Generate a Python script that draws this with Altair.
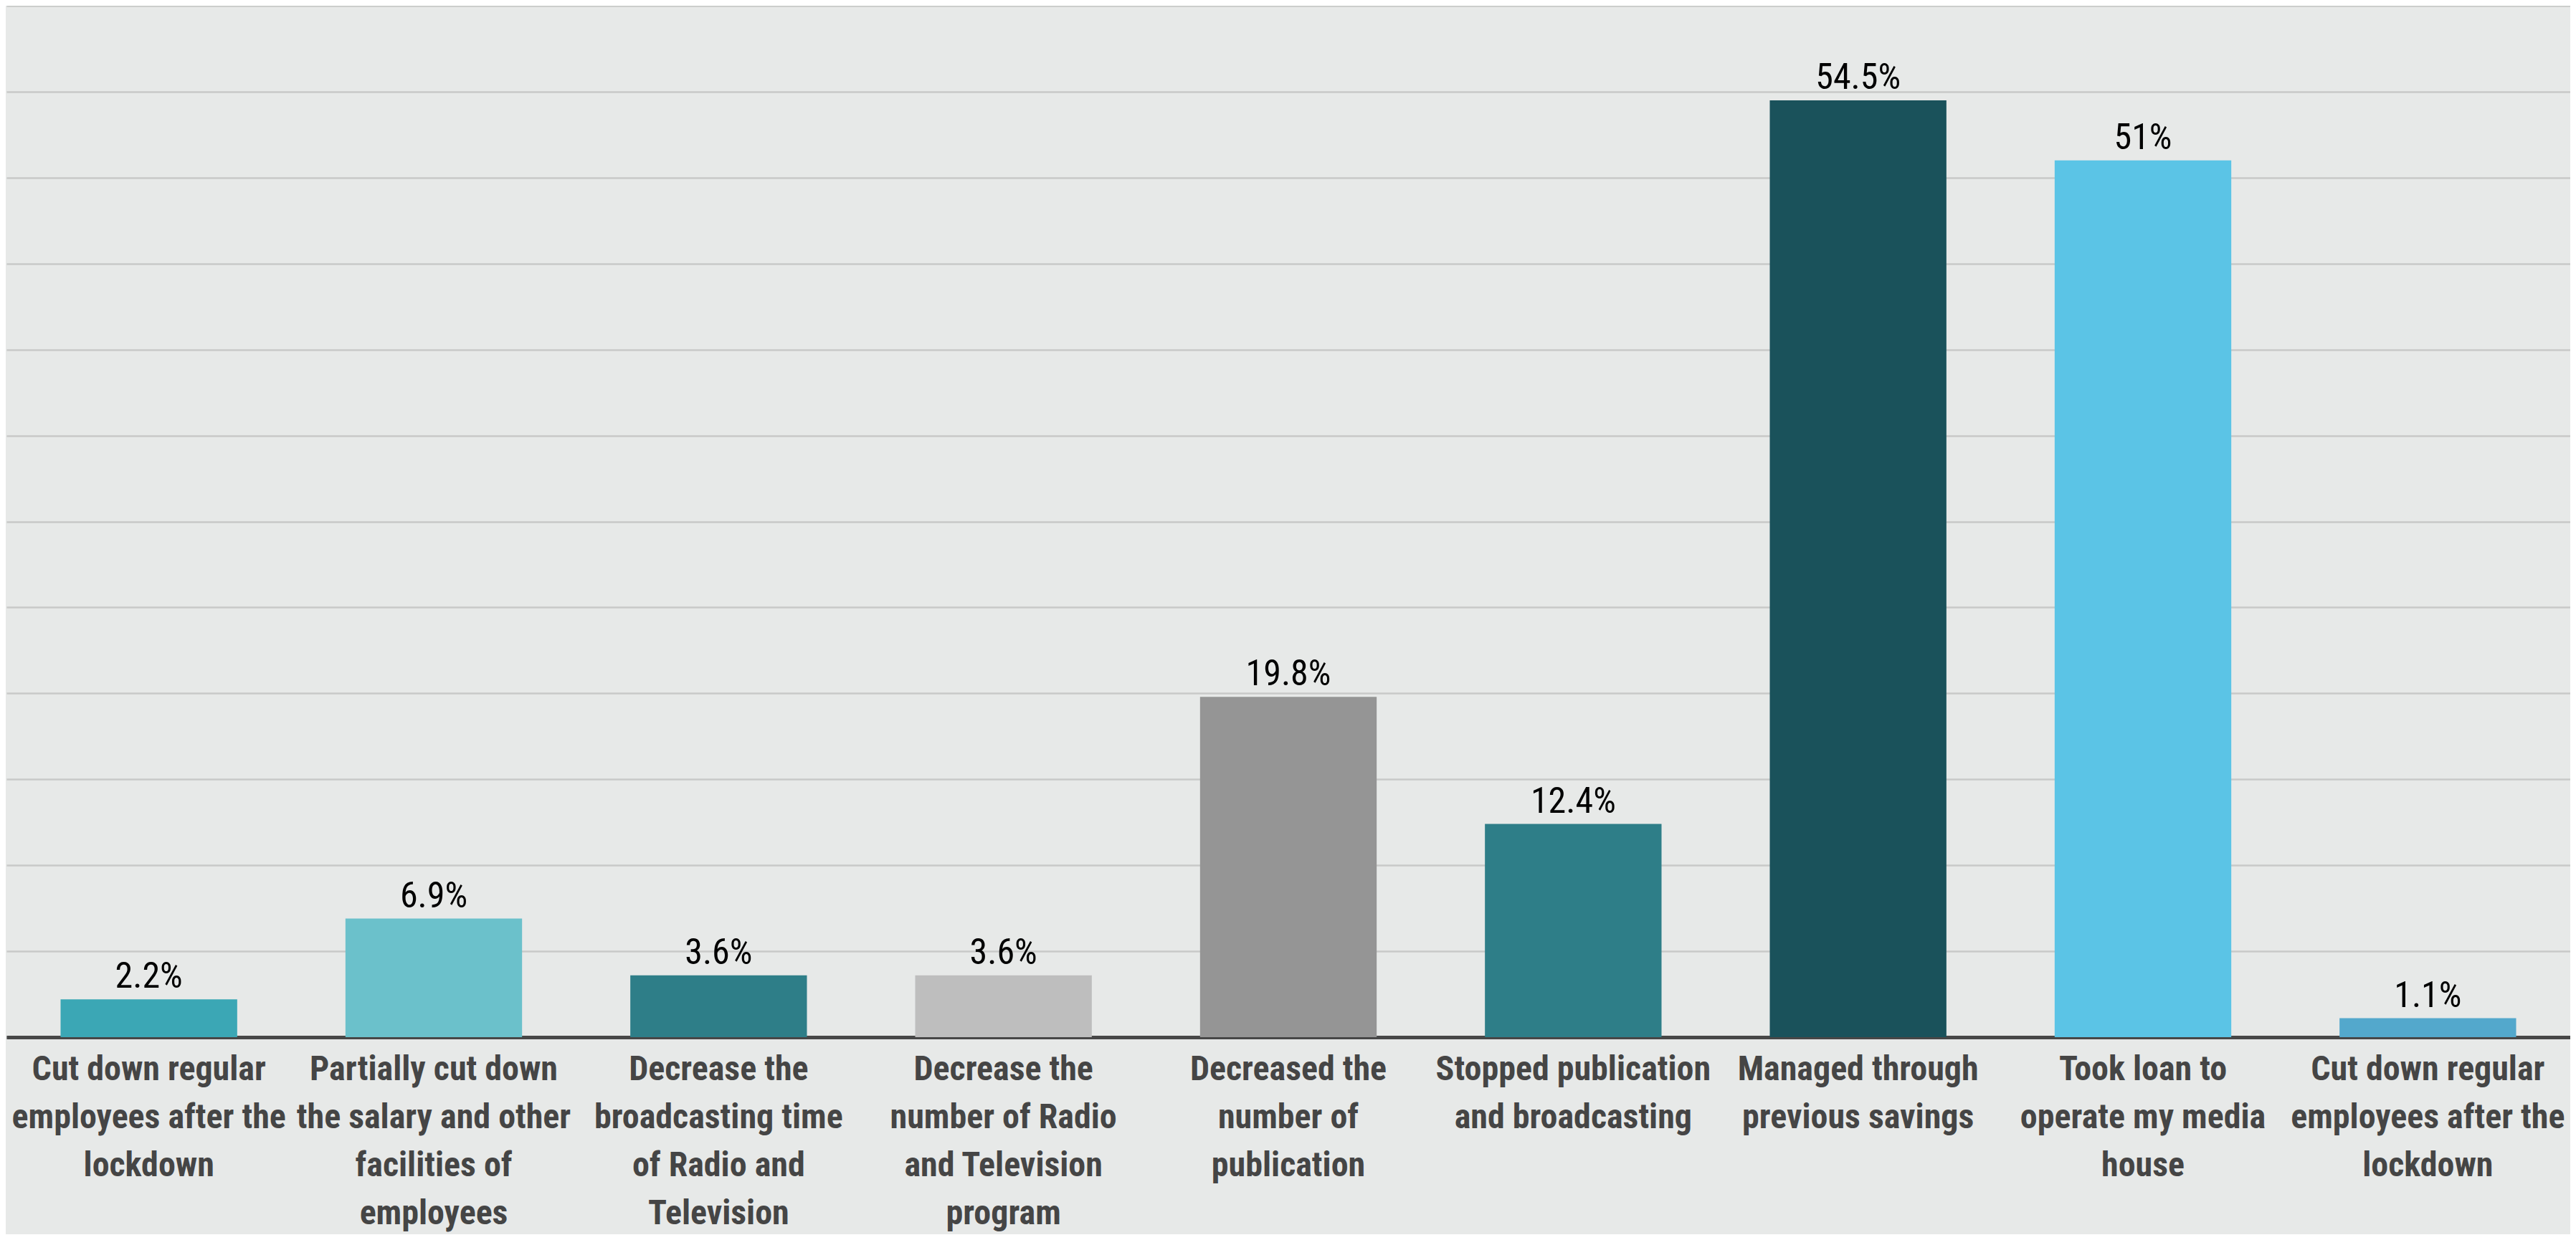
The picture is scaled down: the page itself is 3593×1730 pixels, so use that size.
import json
import altair as alt
import pandas as pd

categories = [
    "Cut down regular|employees after the|lockdown",
    "Partially cut down|the salary and other|facilities of|employees",
    "Decrease the|broadcasting time|of Radio and|Television",
    "Decrease the|number of Radio|and Television|program",
    "Decreased the|number of|publication",
    "Stopped publication|and broadcasting",
    "Managed through|previous savings",
    "Took loan to|operate my media|house",
    "Cut down regular|employees after the|lockdown",
]
values = [2.2, 6.9, 3.6, 3.6, 19.8, 12.4, 54.5, 51, 1.1]
value_labels = ["2.2%", "6.9%", "3.6%", "3.6%", "19.8%", "12.4%", "54.5%", "51%", "1.1%"]
colors = ["#3BA7B5", "#6BC1CB", "#2E7E88", "#BEBEBE", "#959595", "#2E7E88",
          "#1A525B", "#5BC4E6", "#53A8CC"]
grid_values = [0, 5, 10, 15, 20, 25, 30, 35, 40, 45, 50, 55, 60]

df = pd.DataFrame({
    "idx": list(range(len(categories))),
    "value": values,
    "label": value_labels,
    "color": colors,
})

label_expr = "split(" + json.dumps(categories) + "[datum.value], '|')"

x = alt.X(
    "idx:O",
    scale=alt.Scale(paddingInner=0.38, paddingOuter=0.19),
    axis=alt.Axis(
        title=None,
        labelExpr=label_expr,
        labelAngle=0,
        labelFont="Roboto Condensed",
        labelFontWeight="bold",
        labelFontSize=48,
        labelLineHeight=67,
        labelColor="#454545",
        labelBaseline="top",
        labelPadding=21,
        labelLimit=0,
        labelOverlap=False,
        ticks=False,
        domain=True,
        domainColor="#474747",
        domainWidth=5,
        grid=False,
    ),
)
y = alt.Y(
    "value:Q",
    scale=alt.Scale(domain=[0, 60], nice=False),
    axis=alt.Axis(
        title=None,
        labels=False,
        ticks=False,
        domain=False,
        grid=True,
        values=grid_values,
        gridColor="#C8C9C8",
        gridWidth=2.5,
    ),
)

bars = alt.Chart(df).mark_bar().encode(
    x=x,
    y=y,
    color=alt.Color("color:N", scale=None),
)

text = alt.Chart(df).mark_text(
    baseline="alphabetic",
    dy=-16,
    font="Roboto Condensed",
    fontSize=50,
    color="#000000",
).encode(
    x=alt.X("idx:O"),
    y=alt.Y("value:Q"),
    text=alt.Text("label:N"),
)

chart = alt.layer(bars, text).properties(
    width=3576,
    height=1439,
    background="#E7E9E8",
    autosize=alt.AutoSizeParams(type="none"),
    padding={"left": 1, "top": 0, "right": 0, "bottom": 275},
).configure_view(stroke=None)

chart.save("out.html", embed_options={"renderer": "svg", "actions": False})
